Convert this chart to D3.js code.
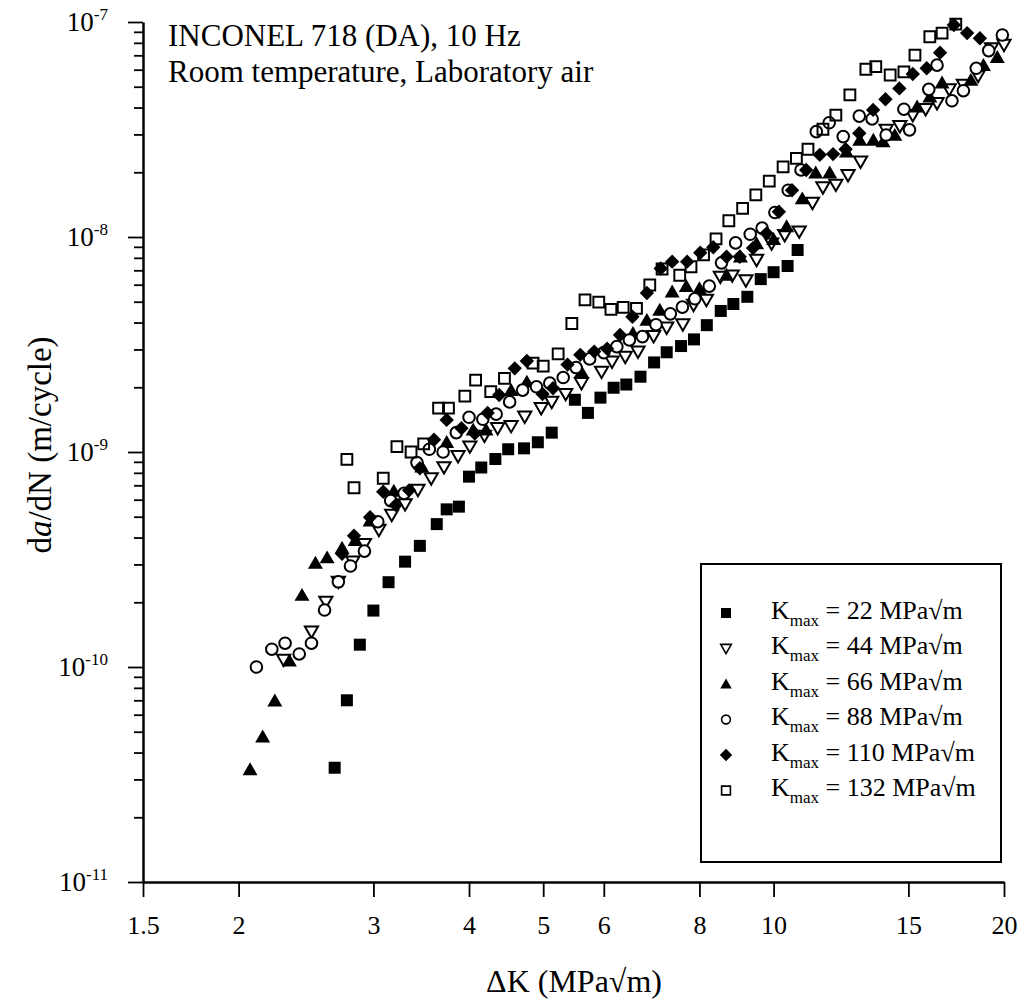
<!DOCTYPE html>
<html>
<head>
<meta charset="utf-8">
<script src="https://cdn.jsdelivr.net/npm/d3@7"></script>
<style>
  body { margin: 0; background: #fff; }
  text { font-family: 'Liberation Serif', 'Times New Roman', serif; fill: #000; }
</style>
</head>
<body>
<svg id="chart" width="1022" height="1004"></svg>
<script>
// tick values
const xTicks = [1.5, 2, 3, 4, 5, 6, 8, 10, 15, 20]
const yMajor = [1e-11, 1e-10, 1e-9, 1e-8, 1e-7]
const yExponents = ['-11', '-10', '-9', '-8', '-7']

// [ΔK (MPa√m), da/dN (m/cycle)]
const kmax22 = [[2.67, 3.4e-11], [2.77, 7.0e-11], [2.88, 1.27e-10], [3.0, 1.83e-10], [3.14, 2.48e-10], [3.30, 3.09e-10], [3.45, 3.66e-10], [3.63, 4.62e-10], [3.74, 5.41e-10], [3.88, 5.57e-10], [4.0, 7.68e-10], [4.15, 8.47e-10], [4.33, 9.28e-10], [4.50, 1.03e-9], [4.72, 1.04e-9], [4.92, 1.11e-9], [5.13, 1.23e-9], [5.50, 1.75e-9], [5.72, 1.52e-9], [5.94, 1.79e-9], [6.18, 1.99e-9], [6.42, 2.06e-9], [6.70, 2.24e-9], [6.98, 2.61e-9], [7.25, 2.91e-9], [7.57, 3.11e-9], [7.87, 3.34e-9], [8.18, 3.89e-9], [8.53, 4.53e-9], [8.86, 4.88e-9], [9.24, 5.27e-9], [9.62, 6.37e-9], [10.0, 6.86e-9], [10.43, 7.33e-9], [10.75, 8.7e-9]]
const kmax44 = [[2.29, 1.08e-10], [2.49, 1.46e-10], [2.60, 2.01e-10], [2.70, 2.49e-10], [2.82, 3.09e-10], [2.92, 3.73e-10], [3.05, 4.34e-10], [3.17, 5.1e-10], [3.30, 5.71e-10], [3.43, 6.66e-10], [3.57, 7.54e-10], [3.71, 8.49e-10], [3.87, 9.57e-10], [4.01, 1.06e-9], [4.19, 1.19e-9], [4.36, 1.29e-9], [4.54, 1.32e-9], [4.73, 1.46e-9], [4.97, 1.60e-9], [5.13, 1.71e-9], [5.35, 1.86e-9], [5.61, 2.09e-9], [5.96, 2.36e-9], [6.15, 2.63e-9], [6.40, 2.77e-9], [6.65, 2.93e-9], [6.97, 3.46e-9], [7.25, 3.79e-9], [7.61, 3.92e-9], [7.86, 4.83e-9], [8.17, 5.10e-9], [8.52, 6.53e-9], [8.83, 6.62e-9], [9.2, 6.28e-9], [9.50, 7.82e-9], [9.94, 9.33e-9], [10.34, 1.02e-8], [10.8, 1.06e-8], [11.24, 1.44e-8], [11.60, 1.70e-8], [12.06, 1.75e-8], [12.51, 1.94e-8], [12.99, 2.24e-8], [14.03, 3.15e-8], [14.62, 3.28e-8], [15.2, 3.69e-8], [15.8, 3.93e-8], [16.35, 4.19e-8], [16.96, 4.86e-8], [17.7, 5.1e-8], [18.5, 5.61e-8], [19.26, 7.54e-8], [20.0, 7.82e-8]]
const kmax66 = [[2.07, 3.34e-11], [2.15, 4.74e-11], [2.23, 6.97e-11], [2.33, 1.07e-10], [2.42, 2.16e-10], [2.52, 3.05e-10], [2.61, 3.23e-10], [2.73, 3.58e-10], [2.84, 3.89e-10], [2.97, 4.79e-10], [3.19, 6.59e-10], [3.47, 8.55e-10], [3.74, 1.11e-9], [4.05, 1.27e-9], [4.21, 1.27e-9], [4.54, 1.94e-9], [4.76, 2.12e-9], [5.61, 2.36e-9], [6.55, 3.57e-9], [6.83, 4.11e-9], [7.10, 4.58e-9], [7.37, 5.57e-9], [7.69, 5.91e-9], [8.0, 5.77e-9], [8.68, 6.66e-9], [9.05, 8.10e-9], [9.50, 9.33e-9], [10.0, 9.77e-9], [10.4, 1.12e-8], [10.9, 1.51e-8], [11.35, 1.99e-8], [11.84, 1.99e-8], [12.45, 2.49e-8], [12.96, 2.83e-8], [13.5, 2.83e-8], [13.9, 2.78e-8], [14.4, 2.98e-8], [15.4, 4.04e-8], [16.0, 4.49e-8], [16.6, 5.22e-8], [18.1, 5.37e-8], [18.8, 6.30e-8], [19.6, 6.86e-8]]
const kmax88 = [[2.11, 1.0e-10], [2.21, 1.21e-10], [2.30, 1.29e-10], [2.40, 1.15e-10], [2.49, 1.29e-10], [2.59, 1.84e-10], [2.70, 2.49e-10], [2.80, 2.95e-10], [2.92, 3.46e-10], [3.04, 4.74e-10], [3.16, 5.94e-10], [3.29, 6.42e-10], [3.42, 8.93e-10], [3.55, 1.03e-9], [3.70, 1.0e-9], [3.85, 1.23e-9], [4.0, 1.45e-9], [4.17, 1.42e-9], [4.34, 1.50e-9], [4.52, 1.71e-9], [4.70, 1.94e-9], [4.90, 2.01e-9], [5.10, 2.09e-9], [5.31, 2.22e-9], [5.52, 2.47e-9], [5.75, 2.71e-9], [6.0, 2.90e-9], [6.24, 3.09e-9], [6.48, 3.32e-9], [6.74, 3.44e-9], [7.02, 3.91e-9], [7.33, 4.39e-9], [7.60, 4.72e-9], [7.89, 5.16e-9], [8.24, 5.91e-9], [8.55, 7.58e-9], [8.92, 9.39e-9], [9.32, 1.03e-8], [9.66, 1.10e-8], [10.04, 1.30e-8], [10.45, 1.65e-8], [10.86, 2.05e-8], [11.37, 3.09e-8], [11.82, 3.40e-8], [12.33, 2.93e-8], [12.94, 3.65e-8], [13.45, 3.54e-8], [14.03, 2.98e-8], [14.8, 3.93e-8], [15.05, 3.15e-8], [15.95, 4.86e-8], [16.35, 6.30e-8], [17.1, 4.30e-8], [17.7, 4.79e-8], [18.4, 6.09e-8], [19.1, 7.36e-8], [19.9, 8.7e-8]]
const kmax110 = [[2.73, 3.36e-10], [2.83, 4.08e-10], [2.97, 4.97e-10], [3.09, 6.53e-10], [3.21, 5.67e-10], [3.34, 6.63e-10], [3.45, 8.40e-10], [3.60, 1.14e-9], [3.74, 1.41e-9], [3.91, 1.29e-9], [4.07, 1.22e-9], [4.23, 1.52e-9], [4.38, 1.84e-9], [4.59, 2.45e-9], [4.76, 2.65e-9], [4.99, 1.86e-9], [5.15, 1.98e-9], [5.38, 2.55e-9], [5.59, 2.83e-9], [5.83, 2.93e-9], [6.06, 3.02e-9], [6.30, 3.50e-9], [6.54, 4.26e-9], [6.83, 5.49e-9], [7.12, 7.14e-9], [7.37, 7.68e-9], [7.71, 7.68e-9], [8.02, 8.45e-9], [8.34, 8.96e-9], [8.68, 8.10e-9], [9.03, 8.10e-9], [9.40, 8.88e-9], [9.79, 1.04e-8], [10.16, 1.31e-8], [10.57, 1.65e-8], [11.03, 2.05e-8], [11.49, 2.41e-8], [11.96, 2.43e-8], [12.42, 2.56e-8], [12.94, 3.04e-8], [13.49, 3.9e-8], [14.0, 4.37e-8], [14.6, 4.91e-8], [15.2, 5.73e-8], [15.85, 6.09e-8], [16.5, 7.20e-8], [17.2, 9.69e-8], [17.9, 8.88e-8], [18.6, 8.4e-8]]
const kmax132 = [[2.77, 9.25e-10], [2.83, 6.82e-10], [3.09, 7.55e-10], [3.22, 1.06e-9], [3.36, 1.0e-9], [3.49, 1.09e-9], [3.65, 1.60e-9], [3.76, 1.60e-9], [3.95, 1.82e-9], [4.08, 2.16e-9], [4.27, 1.91e-9], [4.45, 2.20e-9], [4.85, 2.59e-9], [5.0, 2.51e-9], [5.23, 2.86e-9], [5.45, 3.96e-9], [5.67, 5.10e-9], [5.91, 4.98e-9], [6.13, 4.61e-9], [6.36, 4.71e-9], [6.62, 4.66e-9], [6.89, 5.98e-9], [7.15, 7.10e-9], [7.54, 6.64e-9], [7.80, 7.27e-9], [8.10, 8.25e-9], [8.41, 9.8e-9], [8.74, 1.19e-8], [9.11, 1.36e-8], [9.48, 1.57e-8], [9.87, 1.82e-8], [10.29, 2.12e-8], [10.71, 2.32e-8], [11.09, 2.56e-8], [11.60, 3.17e-8], [12.06, 3.69e-8], [12.58, 4.58e-8], [13.2, 6.03e-8], [13.6, 6.2e-8], [14.2, 5.67e-8], [14.8, 5.86e-8], [15.3, 7.02e-8], [16.0, 8.54e-8], [16.6, 8.88e-8], [17.3, 9.78e-8]]

// marker shapes (drawn around 0,0, r = half size)
const shapes = {
  square: r => `M${-r},${-r}H${r}V${r}H${-r}Z`,
  triDown: r => `M${-r * 1.1},${-r * 0.85}H${r * 1.1}L0,${r * 1.05}Z`,
  triUp: r => `M${-r * 1.1},${r * 0.85}H${r * 1.1}L0,${-r * 1.05}Z`,
  circle: r => `M${r},0A${r},${r} 0 1,1 ${-r},0A${r},${r} 0 1,1 ${r},0Z`,
  diamond: r => `M0,${-r}L${r},0L0,${r}L${-r},0Z`
}

const series = [
  { key: '22', data: kmax22, shape: 'square', fill: '#000', r: 6, lr: 5 },
  { key: '44', data: kmax44, shape: 'triDown', fill: '#fff', r: 6, lr: 4.8 },
  { key: '66', data: kmax66, shape: 'triUp', fill: '#000', r: 6.8, lr: 5.2 },
  { key: '88', data: kmax88, shape: 'circle', fill: '#fff', r: 5.8, lr: 4.4 },
  { key: '132', data: kmax132, shape: 'square', fill: 'none', r: 5.4, lr: 4.4 },
  { key: '110', data: kmax110, shape: 'diamond', fill: '#000', r: 7.2, lr: 6.2 }
]
const legendOrder = ['22', '44', '66', '88', '110', '132']

const svg = d3.select('#chart')
const x = d3.scaleLog().domain([1.5, 20]).range([143, 1004])
const y = d3.scaleLog().domain([1e-11, 1e-7]).range([882, 22])

// x axis
const xAxis = svg.append('g')
  .attr('transform', 'translate(0,882)')
  .call(d3.axisBottom(x).tickValues(xTicks).tickFormat(d => String(d)).tickSize(15).tickSizeOuter(0).tickPadding(19))
xAxis.select('.domain').attr('stroke-width', 2.5)
xAxis.selectAll('.tick line').attr('stroke-width', 1.8)
xAxis.selectAll('.tick text')
  .attr('font-family', "'Liberation Serif', serif")
  .attr('font-size', 26)
  .attr('fill', '#000')

// y axis: minor ticks then major ticks with labels
const yMinor = []
yMajor.slice(0, -1).forEach(d => {
  for (let m = 2; m <= 9; m++) yMinor.push(d * m)
})
const yAxisMinor = svg.append('g')
  .attr('transform', 'translate(143,0)')
  .call(d3.axisLeft(y).tickValues(yMinor).tickFormat('').tickSize(9).tickSizeOuter(0))
yAxisMinor.select('.domain').remove()
yAxisMinor.selectAll('.tick line').attr('stroke-width', 1.8)

const yAxis = svg.append('g')
  .attr('transform', 'translate(143,0)')
  .call(d3.axisLeft(y).tickValues(yMajor).tickSize(15).tickSizeOuter(0).tickPadding(20))
yAxis.select('.domain').attr('stroke-width', 2.5)
yAxis.selectAll('.tick line').attr('stroke-width', 1.8)
yAxis.selectAll('.tick text')
  .attr('font-family', "'Liberation Serif', serif")
  .attr('font-size', 27)
  .attr('fill', '#000')
  .attr('dy', '0.32em')
  .text('')
  .each(function (d, i) {
    const t = d3.select(this)
    t.append('tspan').text('10')
    t.append('tspan').attr('font-size', 17).attr('dy', -11).text(yExponents[i])
  })

// axis titles
svg.append('text')
  .attr('x', 574)
  .attr('y', 992)
  .attr('text-anchor', 'middle')
  .attr('font-size', 32)
  .text('ΔK (MPa√m)')

const yTitle = svg.append('text')
  .attr('transform', 'translate(51,445) rotate(-90)')
  .attr('text-anchor', 'middle')
  .attr('font-size', 33)
yTitle.append('tspan').text('d')
yTitle.append('tspan').attr('font-style', 'italic').text('a')
yTitle.append('tspan').text('/dN (m/cycle)')

// annotation
svg.append('text').attr('x', 168).attr('y', 46).attr('font-size', 31).text('INCONEL 718 (DA), 10 Hz')
svg.append('text').attr('x', 168).attr('y', 82).attr('font-size', 31).text('Room temperature, Laboratory air')

// data points
series.forEach(s => {
  svg.append('g')
    .attr('class', 'series-' + s.key)
    .selectAll('path')
    .data(s.data)
    .enter()
    .append('path')
    .attr('transform', d => `translate(${x(d[0])},${y(d[1])})`)
    .attr('d', shapes[s.shape](s.r))
    .attr('fill', s.fill)
    .attr('stroke', '#000')
    .attr('stroke-width', s.fill === '#000' ? 0 : 2)
})

// legend
const legend = svg.append('g')
legend.append('rect')
  .attr('x', 701).attr('y', 564)
  .attr('width', 300).attr('height', 298)
  .attr('fill', '#fff')
  .attr('stroke', '#000')
  .attr('stroke-width', 2)
legendOrder.forEach((key, i) => {
  const s = series.find(v => v.key === key)
  const cy = 613 + i * 35.5
  legend.append('path')
    .attr('transform', `translate(726,${cy})`)
    .attr('d', shapes[s.shape](s.lr))
    .attr('fill', s.fill)
    .attr('stroke', '#000')
    .attr('stroke-width', s.fill === '#000' ? 0 : 1.6)
  const t = legend.append('text')
    .attr('x', 771)
    .attr('y', cy + 5.5)
    .attr('font-size', 26)
  t.append('tspan').text('K')
  t.append('tspan').attr('font-size', 17).attr('dy', 7).text('max')
  t.append('tspan').attr('dy', -7).text(` = ${key} MPa√m`)
})
</script>
</body>
</html>
